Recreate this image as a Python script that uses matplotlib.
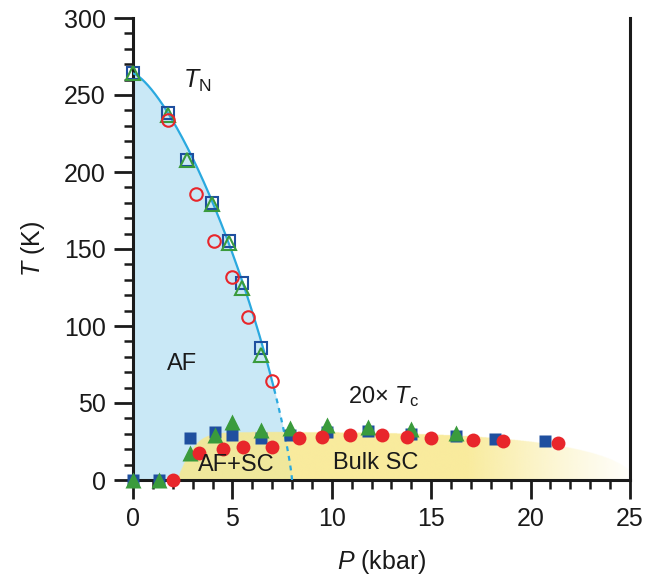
import numpy as np
import matplotlib
matplotlib.use("Agg")
import matplotlib.pyplot as plt

plt.rcParams['font.family'] = ['Liberation Sans', 'DejaVu Sans']
plt.rcParams['mathtext.fontset'] = 'custom'
plt.rcParams['mathtext.rm'] = 'Liberation Sans'
plt.rcParams['mathtext.it'] = 'Liberation Sans:italic'
plt.rcParams['text.color'] = '#1a1a1a'

# ---- data: Neel temperature (open symbols) ----
tn_sq_P = [0.0, 1.77, 2.72, 3.96, 4.85, 5.47, 6.44]
tn_sq_T = [264, 238, 208, 180, 155, 128, 86]
tn_tri_P = [0.0, 1.77, 2.72, 3.96, 4.85, 5.47, 6.44]
tn_tri_T = [264, 237, 208, 179, 154, 125, 81]
tn_cir_P = [1.74, 3.17, 4.07, 4.98, 5.78, 7.0]
tn_cir_T = [234, 186, 155, 132, 106, 64]

# ---- data: 20 x Tc (filled symbols) ----
sc_sq_P = [0.0, 1.3, 2.87, 4.1, 5.0, 6.45, 7.9, 9.75, 11.8, 14.0, 16.25, 18.2, 20.7]
sc_sq_T = [0, 0, 27.5, 31, 29, 27, 29, 31, 32, 30, 28.6, 26.6, 25.3]
sc_tri_P = [0.0, 1.3, 2.87, 4.1, 5.0, 6.45, 7.9, 9.75, 11.8, 14.0, 16.25]
sc_tri_T = [0, 0, 17.5, 29, 37.7, 32.5, 33.8, 35.7, 34.4, 33, 30.5]
sc_cir_P = [2.0, 3.3, 4.55, 5.55, 7.0, 8.35, 9.5, 10.9, 12.5, 13.8, 15.0, 17.1, 18.6, 21.4]
sc_cir_T = [0, 17.5, 20, 21.5, 21.5, 27.5, 28, 29, 29, 28, 27.4, 26, 25.3, 24]

x_ticks = [0, 5, 10, 15, 20, 25]
y_ticks = [0, 50, 100, 150, 200, 250, 300]

# guide-curve parameters
TN0, PC, A_EXP, B_EXP = 264.0, 8.0, 1.4, 0.8
P_SOLID_END = 7.1
SC_MAX, SC_START, SC_END = 31.0, 2.2, 25.2

def tn_curve(p):
    x = np.clip(p / PC, 0, 1)
    return TN0 * np.clip(1 - x ** A_EXP, 0, None) ** B_EXP

def sc_dome(p):
    left = np.tanh(np.clip(p - SC_START, 0, None) / 1.0)
    r = np.clip((p - SC_START) / (SC_END - SC_START), 0, 1)
    return SC_MAX * left * np.sqrt(np.clip(1 - r ** 4, 0, None))

fig = plt.figure(figsize=(6.46, 5.81), dpi=100)
ax = fig.add_axes([133/646, 101/581, 497/646, 462/581])
ax.set_xlim(0, 25)
ax.set_ylim(0, 300)

BLUE_LINE = '#2aa9df'
BLUE_FILL = '#c9e8f6'
SQ_C = '#1f4f9f'
TRI_C = '#3a9b3c'
CIR_C = '#e8262b'
INK = '#1a1a1a'

# AF region
pp = np.linspace(0, PC, 400)
ax.fill_between(pp, 0, tn_curve(pp), color=BLUE_FILL, lw=0, zorder=1)

# SC region with fade
nx, ny = 800, 200
gx = np.linspace(0, 25, nx)
gy = np.linspace(0, 40, ny)
GX, GY = np.meshgrid(gx, gy)
inside = GY <= sc_dome(GX)
alpha = np.clip((25.8 - GX) / 9.0, 0, 1) ** 1.2
img = np.zeros((ny, nx, 4))
img[..., 0] = 248/255
img[..., 1] = 232/255
img[..., 2] = 140/255
img[..., 3] = np.where(inside, 0.85 * alpha, 0)
ax.imshow(img, extent=[0, 25, 0, 40], origin='lower', aspect='auto',
          interpolation='bilinear', zorder=2)

# TN line
ps = np.linspace(0, P_SOLID_END, 300)
ax.plot(ps, tn_curve(ps), color=BLUE_LINE, lw=1.6, zorder=3)
pd = np.linspace(P_SOLID_END, PC, 200)
ax.plot(pd, tn_curve(pd), color=BLUE_LINE, lw=1.6, ls=(0, (2.2, 2.2)), zorder=3)

ms = 9
mew = 1.5
# open symbols
ax.plot(tn_sq_P, tn_sq_T, 's', ms=ms, mfc='none', mec=SQ_C, mew=mew, clip_on=False, zorder=5)
ax.plot(tn_tri_P, tn_tri_T, '^', ms=ms + 1, mfc='none', mec=TRI_C, mew=mew, clip_on=False, zorder=6)
ax.plot(tn_cir_P, tn_cir_T, 'o', ms=ms, mfc='none', mec=CIR_C, mew=mew, clip_on=False, zorder=7)
# filled symbols
ax.plot(sc_sq_P, sc_sq_T, 's', ms=ms, color=SQ_C, mec='none', clip_on=False, zorder=5)
ax.plot(sc_tri_P, sc_tri_T, '^', ms=ms + 2, color=TRI_C, mec='none', clip_on=False, zorder=6)
ax.plot(sc_cir_P, sc_cir_T, 'o', ms=ms + 1, color=CIR_C, mec='none', clip_on=False, zorder=7)

# labels
fs_txt = 17
fs_ax = 18
ax.text(2.5, 259, r'$T_{\mathrm{N}}$', fontsize=fs_txt + 1, ha='left', va='center', zorder=8)
ax.text(2.45, 75, 'AF', fontsize=fs_txt, ha='center', va='center', zorder=8)
ax.text(10.8, 54, r'20$\times$ $T_{\mathrm{c}}$', fontsize=fs_txt, ha='left', va='center', zorder=8)
ax.text(5.2, 10, 'AF+SC', fontsize=fs_txt, ha='center', va='center', zorder=8)
ax.text(12.2, 11, 'Bulk SC', fontsize=fs_txt, ha='center', va='center', zorder=8)

ax.set_xlabel(r'$P$ (kbar)', fontsize=fs_ax, labelpad=12, color=INK)
ax.set_ylabel(r'$T$ (K)', fontsize=fs_ax, labelpad=12, color=INK)

ax.set_xticks(x_ticks)
ax.set_yticks(y_ticks)
ax.set_xticks(np.arange(0, 26, 1), minor=True)
ax.set_yticks(np.arange(0, 301, 10), minor=True)
ax.tick_params(which='major', direction='out', length=13.5, width=2, labelsize=fs_ax, pad=6,
               color=INK, labelcolor=INK)
ax.tick_params(which='minor', direction='out', length=6.5, width=1.8, color=INK)
ax.spines['top'].set_visible(False)
for s in ['left', 'bottom', 'right']:
    ax.spines[s].set_linewidth(2.2)
    ax.spines[s].set_color(INK)
ax.tick_params(right=False, which='both')

fig.savefig('out.png', dpi=100)
